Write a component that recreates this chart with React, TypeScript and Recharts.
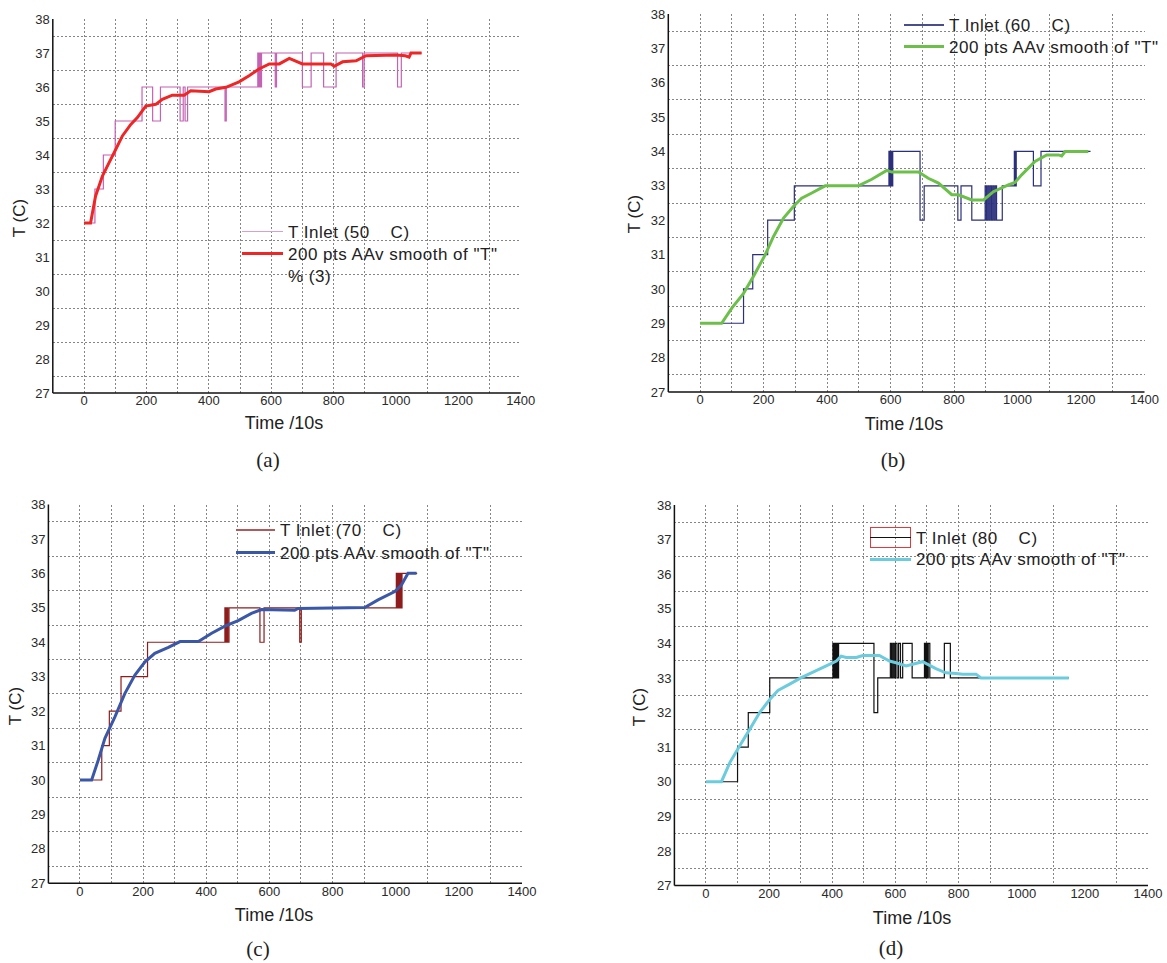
import React from 'react';
import { LineChart, Line, XAxis, YAxis, CartesianGrid } from 'recharts';

// (a) inlet 50 C
const stepTimeA = [0, 35, 62, 100, 186, 220, 245, 308, 318, 324, 332, 452, 456, 557, 559, 561, 563, 565, 567, 569, 613, 617, 700, 728, 768, 808, 893, 898, 1005, 1017, 1083];
const stepTempA = [32, 33, 34, 35, 36, 35, 36, 35, 36, 35, 36, 35, 36, 37, 36, 37, 36, 37, 36, 37, 36, 37, 36, 37, 36, 37, 36, 37, 36, 37, 37];
const smoothTimeA = [0, 21, 37, 59, 80, 102, 123, 150, 171, 198, 230, 251, 283, 321, 342, 401, 422, 455, 497, 529, 561, 594, 626, 658, 700, 791, 802, 829, 872, 904, 1000, 1030, 1042, 1048, 1082];
const smoothTempA = [32, 32, 32.79, 33.38, 33.77, 34.17, 34.56, 34.9, 35.1, 35.44, 35.49, 35.64, 35.76, 35.76, 35.89, 35.86, 35.94, 35.99, 36.15, 36.33, 36.53, 36.68, 36.68, 36.84, 36.68, 36.68, 36.61, 36.74, 36.77, 36.92, 36.94, 36.92, 36.88, 37, 37];

// (b) inlet 60 C
const stepTimeB = [0, 137, 166, 213, 297, 595, 598, 601, 604, 607, 693, 706, 812, 822, 856, 898, 902, 906, 910, 914, 918, 922, 926, 930, 934, 952, 990, 993, 996, 1050, 1074, 1230];
const stepTempB = [29, 30, 31, 32, 33, 34, 33, 34, 33, 34, 32, 33, 32, 33, 32, 33, 32, 33, 32, 33, 32, 33, 32, 33, 32, 33, 34, 33, 34, 33, 34, 34];
const smoothTimeB = [0, 68, 100, 137, 168, 205, 231, 263, 294, 320, 352, 394, 499, 541, 588, 604, 688, 719, 751, 793, 814, 856, 893, 924, 971, 992, 1013, 1055, 1092, 1129, 1139, 1150, 1223];
const smoothTempB = [29, 29, 29.44, 29.87, 30.36, 30.99, 31.52, 32.06, 32.4, 32.64, 32.79, 33, 33, 33.19, 33.45, 33.4, 33.4, 33.22, 33.08, 32.74, 32.74, 32.59, 32.59, 32.83, 33.03, 33.1, 33.32, 33.71, 33.9, 33.9, 33.87, 34, 34];

// (c) inlet 70 C
const stepTimeC = [0, 69, 93, 130, 214, 459, 462, 465, 468, 472, 570, 583, 696, 701, 1002, 1005, 1008, 1011, 1014, 1017, 1020, 1068];
const stepTempC = [30, 31, 32, 33, 34, 35, 34, 35, 34, 35, 34, 35, 34, 35, 36, 35, 36, 35, 36, 35, 36, 36];
const smoothTimeC = [0, 37, 58, 79, 111, 142, 174, 206, 237, 280, 317, 375, 417, 459, 501, 543, 575, 680, 691, 902, 944, 997, 1018, 1039, 1066];
const smoothTempC = [30, 30, 30.58, 31.21, 31.84, 32.51, 33.05, 33.43, 33.68, 33.85, 34.02, 34.02, 34.26, 34.47, 34.63, 34.84, 34.95, 34.93, 34.98, 35.01, 35.23, 35.47, 35.66, 36, 36];

// (d) inlet 80 C
const stepTimeD = [0, 100, 134, 202, 402, 405, 408, 411, 414, 417, 420, 532, 544, 584, 588, 592, 596, 600, 605, 610, 616, 623, 653, 692, 695, 698, 701, 704, 709, 755, 774, 1149];
const stepTempD = [30, 31, 32, 33, 34, 33, 34, 33, 34, 33, 34, 32, 33, 34, 33, 34, 33, 34, 33, 34, 33, 34, 33, 34, 33, 34, 33, 34, 33, 34, 33, 33];
const smoothTimeD = [0, 49, 76, 107, 139, 170, 202, 228, 265, 302, 339, 381, 413, 428, 444, 476, 497, 549, 581, 602, 634, 686, 728, 760, 792, 813, 855, 871, 1149];
const smoothTempD = [30, 30, 30.56, 31.04, 31.52, 32, 32.38, 32.64, 32.82, 33.01, 33.17, 33.35, 33.49, 33.63, 33.59, 33.59, 33.65, 33.65, 33.49, 33.44, 33.35, 33.47, 33.27, 33.15, 33.13, 33.11, 33.11, 33, 33];

const xTicks = [0, 200, 400, 600, 800, 1000, 1200, 1400];
const yTicks = [27, 28, 29, 30, 31, 32, 33, 34, 35, 36, 37, 38];

const gridX: number[] = [];
for (let v = 0; v <= 1300; v += 100) gridX.push(v);
const gridY: number[] = [];
for (let k = 1; k <= 21; k++) gridY.push(27 + k * 0.5);

const SANS = '"Liberation Sans", Arial, sans-serif';
const SERIF = '"Liberation Serif", "Times New Roman", serif';

const toRows = (t: number[], v: number[]) => t.map((x, i) => ({ t: x, v: v[i] }));

interface PanelProps {
  left: number;
  top: number;
  width: number;
  height: number;
  yAxisWidth: number;
  xAxisHeight: number;
  marginTop: number;
  marginRight: number;
  stepT: number[];
  stepV: number[];
  smoothT: number[];
  smoothV: number[];
  stepColor: string;
  smoothColor: string;
}

function Panel(p: PanelProps) {
  const tickStyle = { fontSize: 13, fill: '#2a2a2a', fontFamily: SANS };
  return (
    <div style={{ position: 'absolute', left: p.left, top: p.top }}>
      <LineChart
        width={p.width}
        height={p.height}
        margin={{ top: p.marginTop, right: p.marginRight, left: 0, bottom: 0 }}
      >
        <CartesianGrid
          stroke="#858585"
          strokeDasharray="2 2"
          strokeWidth={1}
          shapeRendering="crispEdges"
          horizontalValues={gridY}
          verticalValues={gridX}
        />
        <XAxis
          type="number"
          dataKey="t"
          domain={[-100, 1400]}
          ticks={xTicks}
          allowDataOverflow
          height={p.xAxisHeight}
          tickLine={false}
          tickSize={0}
          tickMargin={3}
          axisLine={{ stroke: '#111', strokeWidth: 1.5 }}
          tick={tickStyle}
        />
        <YAxis
          type="number"
          dataKey="v"
          domain={[27, 38]}
          ticks={yTicks}
          allowDataOverflow
          width={p.yAxisWidth}
          tickLine={false}
          tickSize={0}
          tickMargin={3}
          axisLine={{ stroke: '#111', strokeWidth: 1.5 }}
          tick={tickStyle}
        />
        <Line
          data={toRows(p.stepT, p.stepV)}
          dataKey="v"
          type="stepAfter"
          stroke={p.stepColor}
          strokeWidth={1.2}
          dot={false}
          isAnimationActive={false}
        />
        <Line
          data={toRows(p.smoothT, p.smoothV)}
          dataKey="v"
          type="linear"
          stroke={p.smoothColor}
          strokeWidth={3}
          dot={false}
          isAnimationActive={false}
        />
      </LineChart>
    </div>
  );
}

function Centered({ x, y, children, size = 18, family = SANS, rotate = 0 }: any) {
  return (
    <div
      style={{
        position: 'absolute',
        left: x,
        top: y,
        transform: `translate(-50%, -50%) rotate(${rotate}deg)`,
        fontFamily: family,
        fontSize: size,
        color: '#222',
        whiteSpace: 'pre',
        lineHeight: 1,
      }}
    >
      {children}
    </div>
  );
}

function LegendRow({ x, y, textX, color, width, label, box }: any) {
  return (
    <>
      {box && (
        <div
          style={{
            position: 'absolute',
            left: x,
            top: y - 10.5,
            width: textX - x - 5,
            height: 21,
            border: '1.2px solid #e23a3a',
            boxSizing: 'border-box',
          }}
        />
      )}
      <div
        style={{
          position: 'absolute',
          left: x,
          top: y - width / 2,
          width: textX - x - 5,
          height: width,
          background: color,
        }}
      />
      <div
        style={{
          position: 'absolute',
          left: textX,
          top: y,
          transform: 'translateY(-50%)',
          fontFamily: SANS,
          fontSize: 17,
          letterSpacing: 0.5,
          color: '#222',
          whiteSpace: 'pre',
          lineHeight: 1,
        }}
      >
        {label}
      </div>
    </>
  );
}

export default function App() {
  return (
    <div style={{ position: 'absolute', left: 0, top: 0, width: 1167, height: 963, background: '#fff', overflow: 'hidden' }}>
      <Panel
        left={0} top={0} width={583} height={480}
        yAxisWidth={52.8} xAxisHeight={87} marginTop={19} marginRight={62.2}
        stepT={stepTimeA} stepV={stepTempA} smoothT={smoothTimeA} smoothV={smoothTempA}
        stepColor="#c462b4" smoothColor="#ee2626"
      />
      <Panel
        left={583} top={0} width={584} height={480}
        yAxisWidth={85.3} xAxisHeight={88} marginTop={14} marginRight={22.5}
        stepT={stepTimeB} stepV={stepTempB} smoothT={smoothTimeB} smoothV={smoothTempB}
        stepColor="#2b2f7c" smoothColor="#6cc04a"
      />
      <Panel
        left={0} top={480} width={583} height={483}
        yAxisWidth={48.4} xAxisHeight={79.7} marginTop={24.5} marginRight={61}
        stepT={stepTimeC} stepV={stepTempC} smoothT={smoothTimeC} smoothV={smoothTempC}
        stepColor="#8e1c1c" smoothColor="#3b57a8"
      />
      <Panel
        left={583} top={480} width={584} height={483}
        yAxisWidth={91.4} xAxisHeight={77.5} marginTop={25} marginRight={19}
        stepT={stepTimeD} stepV={stepTempD} smoothT={smoothTimeD} smoothV={smoothTempD}
        stepColor="#111111" smoothColor="#6ccbdc"
      />

      {/* axis titles */}
      <Centered x={19} y={218} size={17} rotate={-90}>T (C)</Centered>
      <Centered x={634} y={214} size={17} rotate={-90}>T (C)</Centered>
      <Centered x={15} y={706} size={17} rotate={-90}>T (C)</Centered>
      <Centered x={639} y={707} size={17} rotate={-90}>T (C)</Centered>
      <Centered x={284} y={423}>Time /10s</Centered>
      <Centered x={904} y={424}>Time /10s</Centered>
      <Centered x={274} y={915}>Time /10s</Centered>
      <Centered x={912} y={918}>Time /10s</Centered>

      {/* captions */}
      <Centered x={268} y={460} size={21} family={SERIF}>(a)</Centered>
      <Centered x={893} y={460} size={21} family={SERIF}>(b)</Centered>
      <Centered x={258} y={949} size={21} family={SERIF}>(c)</Centered>
      <Centered x={891} y={948} size={21} family={SERIF}>(d)</Centered>

      {/* legends */}
      <LegendRow x={242} y={231.7} textX={288} color="#d8a0d0" width={1.5} label={'T Inlet (50    C)'} />
      <LegendRow x={242} y={253.5} textX={288} color="#ee2626" width={3} label={'200 pts AAv smooth of "T"'} />
      <div style={{ position: 'absolute', left: 288, top: 276, transform: 'translateY(-50%)', fontFamily: SANS, fontSize: 17, letterSpacing: 0.5, color: '#222', lineHeight: 1 }}>
        % (3)
      </div>

      <LegendRow x={904} y={25} textX={949} color="#4a4d8c" width={1.5} label={'T Inlet (60    C)'} />
      <LegendRow x={904} y={46.7} textX={949} color="#6cc04a" width={3} label={'200 pts AAv smooth of "T"'} />

      <LegendRow x={236} y={530} textX={280} color="#b05a5a" width={1.5} label={'T Inlet (70    C)'} />
      <LegendRow x={236} y={552.7} textX={280} color="#3b57a8" width={3} label={'200 pts AAv smooth of "T"'} />

      <LegendRow x={870} y={537.7} textX={916} color="#111" width={1.2} box label={'T Inlet (80    C)'} />
      <LegendRow x={870} y={559.3} textX={916} color="#6ccbdc" width={3} label={'200 pts AAv smooth of "T"'} />
    </div>
  );
}
